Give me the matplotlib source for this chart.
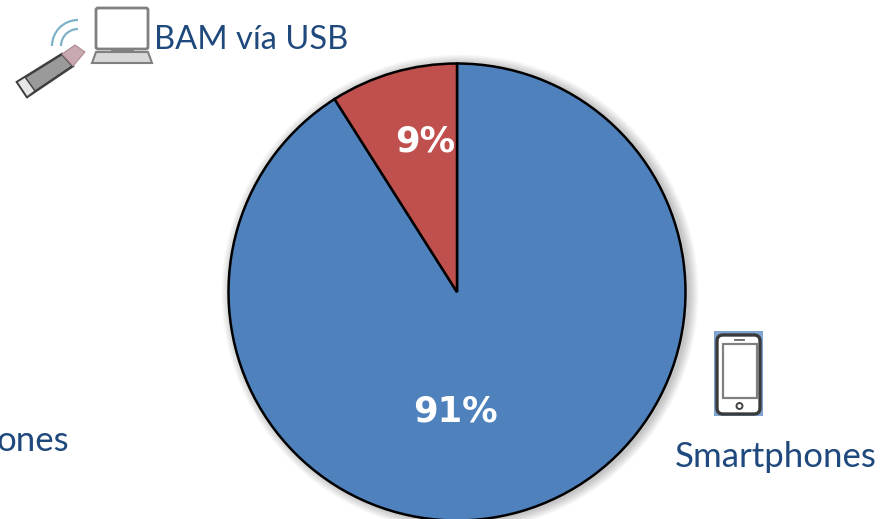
import matplotlib
matplotlib.use("Agg")
import matplotlib.pyplot as plt
from matplotlib.patches import Rectangle, FancyBboxPatch, Polygon, Arc, Circle

categories = ["Smartphones", "BAM vía USB"]
values = [91, 9]
colors = ["#4F81BD", "#C0504D"]
NAVY = "#1F497D"
W, H = 888, 519
fig = plt.figure(figsize=(W / 100, H / 100), dpi=100, facecolor="white")

cx, cy, r = 457, 292, 228.5

# soft shadow behind the pie
bg = fig.add_axes([0, 0, 1, 1], facecolor="none")
bg.set_xlim(0, W)
bg.set_ylim(H, 0)
bg.axis("off")
for grow in range(1, 11):
    bg.add_patch(Circle((cx + 3, cy + 1), r + grow, fc="black", ec="none", alpha=0.022))

# pie axes, placed by pixel box
pie_ax = fig.add_axes([(cx - r) / W, 1 - (cy + r) / H, 2 * r / W, 2 * r / H])
pie_ax.pie(values, colors=colors, startangle=90, counterclock=False, radius=1,
           wedgeprops=dict(edgecolor="black", linewidth=1.8, clip_on=False))
pie_ax.set_xlim(-1, 1)
pie_ax.set_ylim(-1, 1)
pie_ax.axis("off")

# overlay in pixel coordinates
ax = fig.add_axes([0, 0, 1, 1], facecolor="none")
ax.set_xlim(0, W)
ax.set_ylim(H, 0)
ax.axis("off")

label_font = "Lato"
ax.text(251, 40, categories[1], color=NAVY, fontsize=23.5, family=label_font,
        ha="center", va="center")
ax.text(776, 457, categories[0], color=NAVY, fontsize=25, family=label_font,
        ha="center", va="center")
ax.text(-3, 441, "ones", color=NAVY, fontsize=25, family=label_font,
        ha="left", va="center")

ax.text(455, 411, f"{values[0]}%", color="white", fontsize=25.5, fontweight="bold",
        family="DejaVu Sans", ha="center", va="center")
ax.text(425, 142, f"{values[1]}%", color="white", fontsize=25.5, fontweight="bold",
        family="DejaVu Sans", ha="center", va="center")

# phone icon
ax.add_patch(Rectangle((714, 331), 49, 85, fc="#7FA3CF", ec="none"))
ax.add_patch(FancyBboxPatch((717, 335), 43, 79, boxstyle="round,pad=0,rounding_size=6",
                            fc="white", ec="#3A3A3A", lw=2.4))
ax.add_patch(Rectangle((723, 344), 34, 54, fc="white", ec="#808080", lw=1.6))
ax.add_patch(Circle((739.5, 406), 3, fc="white", ec="#444444", lw=1.4))
ax.plot([735, 744], [339.5, 339.5], color="#666666", lw=1.3)

# laptop icon
ax.add_patch(FancyBboxPatch((96, 8), 52, 41, boxstyle="round,pad=0,rounding_size=2",
                            fc="white", ec="#808080", lw=2))
ax.add_patch(Polygon([(96, 52), (148, 52), (152, 63), (92, 63)], fc="#D8D8D8", ec="#808080", lw=1.5))
ax.plot([112, 132], [49.5, 49.5], color="#808080", lw=2)

# USB dongle icon
ax.add_patch(Polygon([(17, 82), (62, 54), (73, 66), (27, 97)], fc="#9A9A9A", ec="#3F3F3F", lw=1.8))
ax.add_patch(Polygon([(17, 82), (25, 77), (35, 91), (27, 97)], fc="#E6E6E6", ec="#3F3F3F", lw=1))
ax.add_patch(Polygon([(62, 54), (75, 45), (85, 52), (73, 66)], fc="#C9A9B0", ec="#B08A92", lw=0.8))
ax.add_patch(Arc((78, 46), 52, 52, theta1=180, theta2=270, color="#7FB2C8", lw=1.6))
ax.add_patch(Arc((78, 46), 34, 34, theta1=180, theta2=270, color="#7FB2C8", lw=1.6))

fig.savefig("out.png", dpi=100)
